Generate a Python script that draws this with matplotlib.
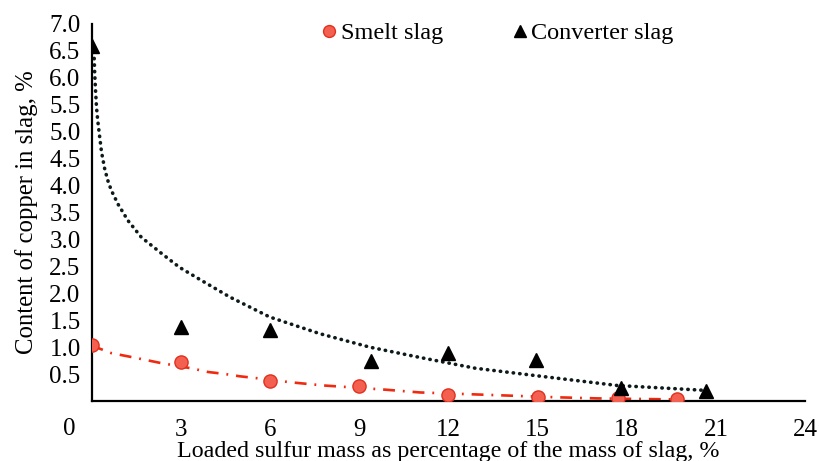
import matplotlib.pyplot as plt

plt.rcParams['font.family'] = ['Liberation Serif', 'DejaVu Serif']

# measured points
smelt_x = [0.0, 3.0, 6.0, 9.0, 12.0, 15.0, 17.7, 19.7]
smelt_y = [1.05, 0.73, 0.38, 0.28, 0.12, 0.07, 0.05, 0.03]

conv_x = [0.0, 3.0, 6.0, 9.4, 12.0, 14.95, 17.8, 20.65]
conv_y = [6.6, 1.38, 1.32, 0.74, 0.9, 0.76, 0.25, 0.18]

# trend lines
conv_trend_x = [0.03, 0.06, 0.08, 0.10, 0.13, 0.16, 0.20, 0.24, 0.33, 0.44, 0.55,
                0.66, 0.89, 1.22, 1.67, 2.35, 2.96, 3.69, 4.65, 5.99, 7.68, 9.36,
                11.04, 12.9, 14.97, 17.67, 20.6]
conv_trend_y = [6.6, 6.5, 6.42, 6.08, 5.75, 5.46, 5.22, 5.03, 4.62, 4.30, 4.08,
                3.91, 3.65, 3.35, 3.04, 2.74, 2.48, 2.24, 1.93, 1.56, 1.25, 1.00,
                0.81, 0.61, 0.47, 0.29, 0.20]

smelt_trend_x = [0.0, 0.66, 1.22, 1.76, 2.29, 3.38, 3.91, 4.45, 4.98, 5.55, 6.67,
                 7.79, 9.92, 11.04, 12.83, 15.65, 17.0, 19.0, 19.8]
smelt_trend_y = [1.03, 0.89, 0.83, 0.77, 0.71, 0.605, 0.54, 0.505, 0.46, 0.425, 0.35,
                 0.29, 0.21, 0.16, 0.125, 0.07, 0.05, 0.035, 0.03]

x_ticks = [3, 6, 9, 12, 15, 18, 21, 24]
y_ticks = [0.5, 1.0, 1.5, 2.0, 2.5, 3.0, 3.5, 4.0, 4.5, 5.0, 5.5, 6.0, 6.5, 7.0]

fig = plt.figure(figsize=(8.19, 4.61), dpi=100)
ax = fig.add_axes([0.112, 0.130, 0.871, 0.818])

ax.plot(conv_trend_x, conv_trend_y, color='#0d1a1a', linestyle=(0, (0.1, 1.7)),
        linewidth=2.6, dash_capstyle='round')
ax.plot(smelt_trend_x, smelt_trend_y, color='#f02a10', linestyle=(0, (4.5, 3, 0.7, 3)),
        linewidth=1.9)

ax.plot(smelt_x, smelt_y, 'o', color='#f4604f', markeredgecolor='#e2301f',
        markersize=9.5, label='Smelt slag', zorder=4)
ax.plot(conv_x, conv_y, '^', color='black', markersize=9.5, label='Converter slag',
        zorder=4)

ax.set_xlim(0, 24)
ax.set_ylim(0, 7)
ax.set_xticks(x_ticks)
ax.set_xticklabels([str(t) for t in x_ticks])
ax.set_yticks(y_ticks)
ax.set_yticklabels([f'{t:.1f}' for t in y_ticks])
ax.tick_params(length=0, labelsize=18)
ax.tick_params(axis='x', pad=13)
ax.tick_params(axis='y', pad=8)
ax.text(-0.75, -0.075, '0', transform=ax.get_xaxis_transform(), fontsize=18,
        ha='center', va='center', clip_on=False)

for side in ['top', 'right']:
    ax.spines[side].set_visible(False)
for side in ['left', 'bottom']:
    ax.spines[side].set_linewidth(1.6)
    ax.spines[side].set_color('black')

ax.set_xlabel('Loaded sulfur mass as percentage of the mass of slag, %', fontsize=17.3,
              labelpad=0)
ax.set_ylabel('Content of copper in slag, %', fontsize=17.8, labelpad=8)

fig.legend(loc='center', bbox_to_anchor=(0.607, 0.928), ncol=2, frameon=False,
           fontsize=17.5, handlelength=0.7, handletextpad=0.12, columnspacing=2.8,
           markerscale=0.9)

fig.savefig('out.png', dpi=100)
